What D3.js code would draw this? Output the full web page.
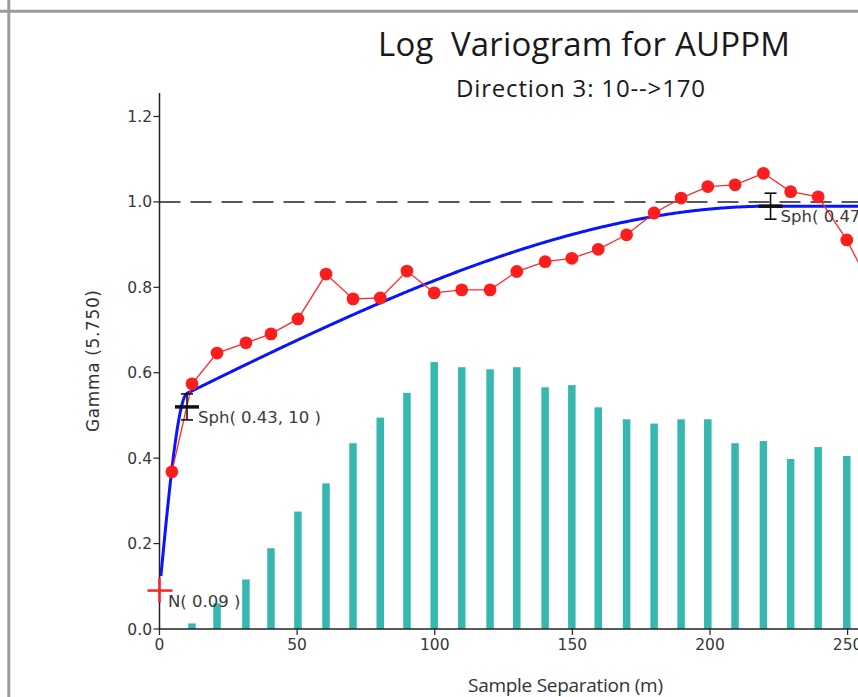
<!DOCTYPE html>
<html>
<head>
<meta charset="utf-8">
<script src="https://cdn.jsdelivr.net/npm/d3@7"></script>
<style>
  html, body { margin: 0; padding: 0; background: #ffffff; }
  svg { display: block; }
</style>
</head>
<body>
<div id="chart"></div>
<script>
// ---------------- DATA ----------------
const titleText = "Log  Variogram for AUPPM";
const subtitleText = "Direction 3: 10-->170";
const xTitle = "Sample Separation (m)";
const yTitle = "Gamma (5.750)";

// experimental variogram: mean lag distance and gamma
const lags  = [4.5, 11.8, 20.9, 31.4, 40.5, 50.3, 60.5, 70.3, 80.2, 89.9, 99.8, 109.8, 120.1, 129.8, 140.1, 149.8, 159.4, 169.7, 179.7, 189.5, 199.2, 209.1, 219.4, 229.3, 239.3, 249.7, 259.6];
const gammaValues = [0.368, 0.574, 0.646, 0.670, 0.691, 0.726, 0.831, 0.773, 0.775, 0.838, 0.787, 0.794, 0.794, 0.837, 0.860, 0.868, 0.889, 0.923, 0.974, 1.009, 1.036, 1.040, 1.067, 1.024, 1.012, 0.911, 0.787];
// relative number of pairs per lag (histogram height, in gamma-axis units)
const pairHeights = [0.000, 0.013, 0.060, 0.116, 0.189, 0.275, 0.341, 0.435, 0.495, 0.553, 0.625, 0.613, 0.608, 0.613, 0.566, 0.571, 0.519, 0.491, 0.481, 0.491, 0.491, 0.435, 0.440, 0.398, 0.426, 0.405, 0.400];

// fitted model
const nugget = 0.09;
const modelSills  = [0.43, 0.47];
const modelRanges = [10, 222];
const sillLine = 1.0;

const yTicks = [0, 0.2, 0.4, 0.6, 0.8, 1.0, 1.2];
const yTickLabels = ["0.0", "0.2", "0.4", "0.6", "0.8", "1.0", "1.2"];
const xTicks = [0, 50, 100, 150, 200, 250, 300];
const xTickLabels = ["0", "50", "100", "150", "200", "250", "300"];

// ---------------- LAYOUT ----------------
const W = 858, H = 697;
const svg = d3.select("#chart").append("svg").attr("width", W).attr("height", H);

const x = d3.scaleLinear().domain([0, 300]).range([159.5, 159.5 + 300 * 2.7525]);
const y = d3.scaleLinear().domain([0, 1.255]).range([629, 93]);

// frame
svg.append("line").attr("x1", 0).attr("x2", W).attr("y1", 11.3).attr("y2", 11.3)
  .attr("stroke", "#9c9c9c").attr("stroke-width", 3);
svg.append("line").attr("x1", 8.8).attr("x2", 8.8).attr("y1", 0).attr("y2", H)
  .attr("stroke", "#9c9c9c").attr("stroke-width", 3);

// titles
svg.append("text").attr("x", 584).attr("y", 56)
  .attr("text-anchor", "middle").attr("font-family", "Open Sans").attr("font-size", 33)
  .attr("fill", "#1a1a1a").style("white-space", "pre").attr("textLength", 412)
  .text(titleText);
svg.append("text").attr("x", 580.5).attr("y", 97)
  .attr("text-anchor", "middle").attr("font-family", "Open Sans").attr("font-size", 24)
  .attr("fill", "#1a1a1a").attr("textLength", 249)
  .text(subtitleText);

// bars (pairs)
const barW = 7.5;
svg.append("g").selectAll("rect")
  .data(lags.map((d, i) => ({lag: d, h: pairHeights[i]})).filter(d => d.h > 0))
  .join("rect")
  .attr("x", d => x(d.lag) - barW / 2)
  .attr("width", barW)
  .attr("y", d => y(d.h))
  .attr("height", d => y(0) - y(d.h))
  .attr("fill", "#36b8b0");

// sill dashed line
svg.append("line")
  .attr("x1", x(0)).attr("x2", W).attr("y1", y(sillLine)).attr("y2", y(sillLine))
  .attr("stroke", "#222").attr("stroke-width", 1.5).attr("stroke-dasharray", "21,10");

// axes
const axisColor = "#222";
svg.append("line").attr("x1", x(0)).attr("x2", x(0)).attr("y1", 93).attr("y2", y(0))
  .attr("stroke", axisColor).attr("stroke-width", 1.5);
svg.append("line").attr("x1", x(0) - 0.75).attr("x2", W).attr("y1", y(0)).attr("y2", y(0))
  .attr("stroke", axisColor).attr("stroke-width", 1.5);

const yt = svg.append("g");
yTicks.forEach((t, i) => {
  yt.append("line").attr("x1", x(0) - 6).attr("x2", x(0)).attr("y1", y(t)).attr("y2", y(t))
    .attr("stroke", axisColor).attr("stroke-width", 1.2);
  yt.append("text").attr("x", x(0) - 7.5).attr("y", y(t)).attr("dy", "0.36em")
    .attr("text-anchor", "end").attr("font-family", "DejaVu Sans").attr("font-size", 15.5)
    .attr("fill", "#383838").text(yTickLabels[i]);
});
const xt = svg.append("g");
xTicks.forEach((t, i) => {
  xt.append("line").attr("x1", x(t)).attr("x2", x(t)).attr("y1", y(0)).attr("y2", y(0) + 6)
    .attr("stroke", axisColor).attr("stroke-width", 1.2);
  xt.append("text").attr("x", x(t)).attr("y", 650)
    .attr("text-anchor", "middle").attr("font-family", "DejaVu Sans").attr("font-size", 15.5)
    .attr("fill", "#383838").text(xTickLabels[i]);
});

// axis titles
svg.append("text").attr("transform", "translate(98.5,361) rotate(-90)")
  .attr("text-anchor", "middle").attr("font-family", "DejaVu Sans").attr("font-size", 17)
  .attr("fill", "#333").attr("textLength", 142).text(yTitle);
svg.append("text").attr("x", 565.5).attr("y", 692)
  .attr("text-anchor", "middle").attr("font-family", "Open Sans").attr("font-size", 19)
  .attr("fill", "#333").attr("textLength", 195).text(xTitle);

// model curve
function sph(h, a) { const r = h / a; return r >= 1 ? 1 : 1.5 * r - 0.5 * r * r * r; }
function model(h) {
  let g = nugget;
  modelSills.forEach((s, i) => { g += s * sph(h, modelRanges[i]); });
  return g;
}
const hs = d3.range(0.5, 300.01, 0.5);
svg.append("path")
  .datum(hs)
  .attr("d", d3.line().x(h => x(h)).y(h => y(model(h))))
  .attr("fill", "none").attr("stroke", "#0a14ff").attr("stroke-width", 3);

// experimental line & points
const pts = lags.map((d, i) => [d, gammaValues[i]]);
svg.append("path").datum(pts)
  .attr("d", d3.line().x(d => x(d[0])).y(d => y(d[1])))
  .attr("fill", "none").attr("stroke", "#ff2a2a").attr("stroke-width", 1.3);
svg.append("g").selectAll("circle").data(pts).join("circle")
  .attr("cx", d => x(d[0])).attr("cy", d => y(d[1])).attr("r", 6.4)
  .attr("fill", "#ff1c1c");

// nugget marker
const nx = x(0), ny = y(nugget);
svg.append("line").attr("x1", nx - 12).attr("x2", nx + 13).attr("y1", ny).attr("y2", ny)
  .attr("stroke", "#ff2020").attr("stroke-width", 2.5);
svg.append("line").attr("x1", nx).attr("x2", nx).attr("y1", ny - 13).attr("y2", ny + 12)
  .attr("stroke", "#ff2020").attr("stroke-width", 2.5);

// structure markers
let cum = nugget;
modelSills.forEach((s, i) => {
  cum += s;
  const cx = x(modelRanges[i]), cy = y(cum);
  const g = svg.append("g");
  g.append("line").attr("x1", cx - 12).attr("x2", cx + 12).attr("y1", cy).attr("y2", cy)
    .attr("stroke", "#111").attr("stroke-width", 3.5);
  g.append("line").attr("x1", cx).attr("x2", cx).attr("y1", cy - 13).attr("y2", cy + 13)
    .attr("stroke", "#111").attr("stroke-width", 1.6);
  [cy - 13, cy + 13].forEach(yy => {
    g.append("line").attr("x1", cx - 6).attr("x2", cx + 6).attr("y1", yy).attr("y2", yy)
      .attr("stroke", "#111").attr("stroke-width", 1.6);
  });
});

// labels
const labelFont = {family: "DejaVu Sans", size: 16.5, fill: "#3a3a3a"};
function label(tx, ty, txt) {
  svg.append("text").attr("x", tx).attr("y", ty)
    .attr("font-family", labelFont.family).attr("font-size", labelFont.size)
    .attr("fill", labelFont.fill).style("white-space", "pre").text(txt);
}
label(x(0) + 8.5, 606.5, "N( " + nugget.toFixed(2) + " )");
label(x(modelRanges[0]) + 11, 423, "Sph( " + modelSills[0].toFixed(2) + ", " + modelRanges[0] + " )");
label(x(modelRanges[1]) + 10, 222, "Sph( " + modelSills[1].toFixed(2) + ", " + modelRanges[1] + " )");
</script>
</body>
</html>
